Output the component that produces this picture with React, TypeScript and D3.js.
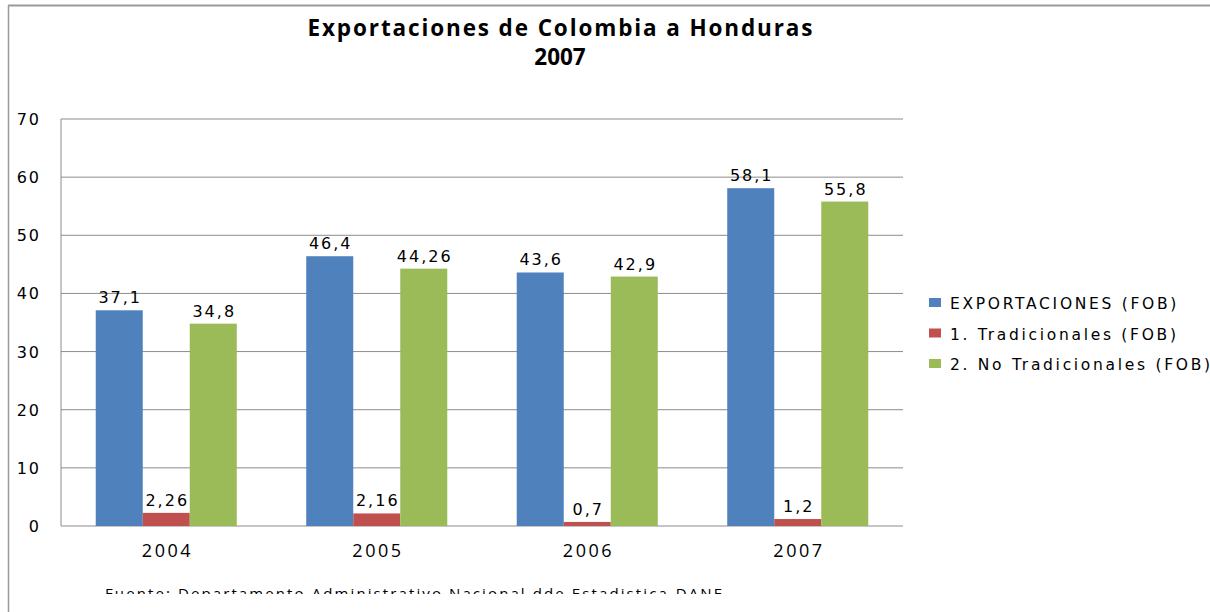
import React from "react";
import * as d3 from "d3";

const categories = ["2004", "2005", "2006", "2007"];
const seriesNames = ["EXPORTACIONES (FOB)", "1. Tradicionales (FOB)", "2. No Tradicionales (FOB)"];
const exportaciones = [37.1, 46.4, 43.6, 58.1];
const tradicionales = [2.26, 2.16, 0.7, 1.2];
const noTradicionales = [34.8, 44.26, 42.9, 55.8];
const yTicks = [0, 10, 20, 30, 40, 50, 60, 70];
const colors = ["#4F81BD", "#C0504D", "#9BBB59"];
const titleLines = ["Exportaciones de Colombia a Honduras", "2007"];
const source = "Fuente: Departamento Administrativo Nacional dde Estadistica-DANE";

const fmt = (v: number) => String(v).replace(".", ",");

export default function App() {
  const W = 1210, H = 612;
  const left = 61, right = 903, top = 119, bottom = 526;
  const series = [exportaciones, tradicionales, noTradicionales];
  const x0 = d3.scaleBand<string>().domain(categories).range([left, right]).paddingInner(0.33).paddingOuter(0.165);
  const x1 = d3.scaleBand<number>().domain([0, 1, 2]).range([0, x0.bandwidth()]);
  const y = d3.scaleLinear().domain([0, 70]).range([bottom, top]);
  const labelFont = "DejaVu Sans, Verdana, sans-serif";
  const calFont = "Open Sans, Noto Sans, sans-serif";

  return (
    <svg width={W} height={H} style={{ position: "absolute", left: 0, top: 0, background: "#fff" }}>
      <defs>
        <clipPath id="clip">
          <rect x={0} y={0} width={W} height={594} />
        </clipPath>
      </defs>
      <rect x={0} y={0} width={W} height={H} fill="#fff" />
      {/* outer border */}
      <line x1={8} x2={W} y1={5.5} y2={5.5} stroke="#9a9a9a" strokeWidth={2} />
      <line x1={8.5} x2={8.5} y1={5} y2={H} stroke="#9a9a9a" strokeWidth={1.5} />

      {/* title */}
      <text x={560} y={36} textAnchor="middle" fontFamily={calFont} fontWeight="bold" fontSize={22.5} fill="#000" textLength={505} lengthAdjust="spacing">{titleLines[0]}</text>
      <text x={560} y={65} textAnchor="middle" fontFamily={calFont} fontWeight="bold" fontSize={22.5} fill="#000">{titleLines[1]}</text>

      {/* gridlines */}
      {yTicks.map((t) => (
        <line key={t} x1={left} x2={right} y1={y(t)} y2={y(t)} stroke="#8c8c8c" strokeWidth={1} />
      ))}
      <line x1={left} x2={left} y1={top} y2={bottom} stroke="#8c8c8c" strokeWidth={1} />
      {yTicks.map((t) => (
        <text key={"l" + t} x={41} y={y(t) + 6} textAnchor="end" fontFamily={labelFont} fontSize={16} letterSpacing={2} fill="#000">{t}</text>
      ))}

      {/* bars */}
      {categories.map((c, i) => (
        <g key={c}>
          {series.map((s, j) => {
            const bx = (x0(c) as number) + (x1(j) as number);
            const bw = x1.bandwidth();
            return (
              <g key={j}>
                <rect x={bx} y={y(s[i])} width={bw} height={bottom - y(s[i])} fill={colors[j]} />
                <text x={bx + bw / 2 + 1} y={y(s[i]) - 7} textAnchor="middle" fontFamily={labelFont} fontSize={16} letterSpacing={2} fill="#000">{fmt(s[i])}</text>
              </g>
            );
          })}
          <text x={(x0(c) as number) + x0.bandwidth() / 2 + 1.2} y={557} textAnchor="middle" fontFamily={calFont} fontSize={18} letterSpacing={2.5} fill="#000">{c}</text>
        </g>
      ))}

      {/* legend */}
      {seriesNames.map((n, j) => (
        <g key={n}>
          <rect x={929} y={298 + j * 30.5} width={12} height={9} fill={colors[j]} />
          <text x={950} y={309 + j * 30.5} fontFamily={labelFont} fontSize={15.5} letterSpacing={2.7} fill="#000">{n}</text>
        </g>
      ))}

      {/* source */}
      <g clipPath="url(#clip)">
        <text x={105} y={599} fontFamily={calFont} fontSize={15} letterSpacing={2.1} fill="#000">{source}</text>
      </g>
    </svg>
  );
}
